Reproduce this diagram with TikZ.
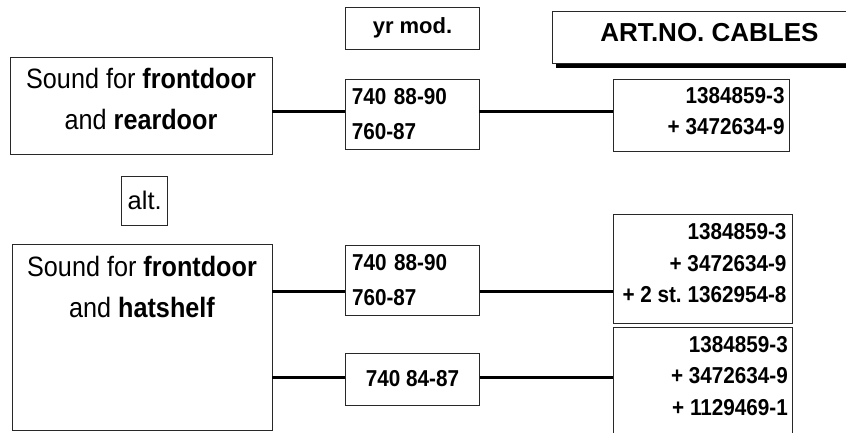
\documentclass[tikz,border=0pt]{standalone}
\usepackage{fontspec}
\setmainfont{Liberation Sans}[FakeStretch=0.9]
\newfontfamily\widefont{Liberation Sans}
\usetikzlibrary{positioning, shadows}
\definecolor{edge}{RGB}{40,40,40}
\frenchspacing
\tikzset{
  box/.style={draw=edge, line width=0.8pt, fill=white, inner sep=0pt},
  cable/.style={line width=3pt},
  big/.style={font=\fontsize{28}{41}\selectfont, align=center, inner sep=0pt},
  year/.style={box, font=\fontsize{23}{35}\selectfont\bfseries, align=left, text width=121pt},
  part/.style={font=\fontsize{23}{31.5}\selectfont\bfseries, align=right, inner sep=0pt, anchor=north east},
}
\begin{document}
\begin{tikzpicture}[x=1pt, y=-1pt]
  \useasboundingbox (0,0) rectangle (846,432);
  \clip (0,0) rectangle (846,432);

  % headings
  \node[box, minimum width=133.6pt, minimum height=42pt, font=\widefont\fontsize{22}{26}\selectfont\bfseries] (yrmod) at (412.5,28.3) {yr mod.};
  \node[box, minimum width=315pt, minimum height=51.6pt,
        drop shadow={shadow xshift=4pt, shadow yshift=-5pt, fill=black, opacity=1}] (artno) at (709.5,37.5) {};
  \node[font=\widefont\fontsize{26}{30}\selectfont\bfseries, inner sep=0pt, yshift=4.5pt] (artnotxt) at (artno.center) {ART.NO. CABLES};

  % sound boxes
  \node[box, minimum width=262pt, minimum height=97pt] (snd1) at (141,106) {};
  \node[big, anchor=north, yshift=-11pt] (snd1txt) at (snd1.north) {Sound for \textbf{frontdoor}\\and \textbf{reardoor}};
  \node[box, minimum width=46pt, minimum height=48.3pt, font=\widefont\fontsize{25.5}{30}\selectfont] (alt) at (144.7,200.8) {alt.};
  \node[box, minimum width=260pt, minimum height=186pt] (snd2) at (142,337) {};
  \node[big, anchor=north, yshift=-12pt] (snd2txt) at (snd2.north) {Sound for \textbf{frontdoor}\\and \textbf{hatshelf}};

  % model years
  \node[year, minimum width=133.3pt, minimum height=70pt] (mod1) at (412.3,114) {740 88-90\\760-87};
  \node[year, minimum width=134.5pt, minimum height=70pt] (mod2) at (412.5,280) {740 88-90\\760-87};
  \node[box, minimum width=134.5pt, minimum height=52pt, font=\fontsize{23}{28}\selectfont\bfseries] (mod3) at (412.5,379) {740 84-87};

  % cable sets
  \node[box, minimum width=175.7pt, minimum height=72pt] (cab1) at (701.2,115) {};
  \node[part, xshift=-4.7pt, yshift=-8.3pt] (cab1txt) at (cab1.north east) {1384859-3\\+ 3472634-9};
  \node[box, minimum width=179.4pt, minimum height=109.3pt] (cab2) at (703,268.7) {};
  \node[part, xshift=-6.4pt, yshift=-10pt] (cab2txt) at (cab2.north east) {1384859-3\\+ 3472634-9\\+ 2 st. 1362954-8};
  \node[box, minimum width=179.4pt, minimum height=112.7pt] (cab3) at (703,383.7) {};
  \node[part, xshift=-5pt, yshift=-9pt] (cab3txt) at (cab3.north east) {1384859-3\\+ 3472634-9\\+ 1129469-1};

  % connectors
  \coordinate (row1) at (0,111);
  \coordinate (row2) at (0,291);
  \coordinate (row3) at (0,377);
  \draw[cable] (snd1.east |- row1) -- (mod1.west |- row1);
  \draw[cable] (mod1.east |- row1) -- (cab1.west |- row1);
  \draw[cable] (snd2.east |- row2) -- (mod2.west |- row2);
  \draw[cable] (mod2.east |- row2) -- (cab2.west |- row2);
  \draw[cable] (snd2.east |- row3) -- (mod3.west |- row3);
  \draw[cable] (mod3.east |- row3) -- (cab3.west |- row3);
\end{tikzpicture}
\end{document}
